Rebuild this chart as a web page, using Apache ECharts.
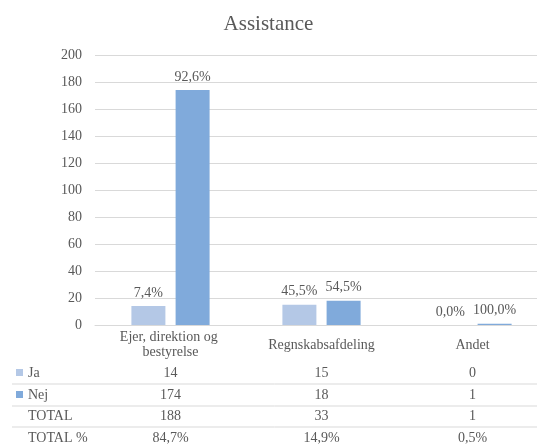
<!DOCTYPE html>
<html>
<head>
<meta charset="utf-8">
<script src="https://cdn.jsdelivr.net/npm/echarts@6/dist/echarts.min.js"></script>
<style>
  html, body { margin: 0; padding: 0; background: #fff; overflow: hidden; }
  #chart { width: 537px; height: 446px; }
</style>
</head>
<body>
<div id="chart"></div>
<script>
// Survey answers per group
const categories = ['Ejer, direktion og bestyrelse', 'Regnskabsafdeling', 'Andet'];
const jaValues = [14, 15, 0];
const nejValues = [174, 18, 1];
const yTicks = { min: 0, max: 200, interval: 20 };

const FONT = '"Liberation Serif", "Times New Roman", serif';
const TEXT = '#595959';
const GRID = '#D9D9D9';
const JA_COLOR = '#B4C8E6';
const NEJ_COLOR = '#80AADB';

const totals = categories.map((_, i) => jaValues[i] + nejValues[i]);
const grandTotal = totals.reduce((a, b) => a + b, 0);
const pct = (v, t) => (t ? (v / t * 100) : 0).toFixed(1).replace('.', ',') + '%';

const chart = echarts.init(document.getElementById('chart'), null, { renderer: 'canvas' });

function barLabel(values) {
  return {
    show: true,
    position: 'top',
    distance: 6,
    fontFamily: FONT,
    fontSize: 14,
    color: TEXT,
    formatter: p => pct(values[p.dataIndex], totals[p.dataIndex])
  };
}

chart.setOption({
  animation: false,
  title: {
    text: 'Assistance',
    left: 'center',
    top: 9,
    textStyle: { fontFamily: FONT, fontSize: 21, fontWeight: 'normal', color: TEXT }
  },
  // the plot runs a little past the right edge of the canvas
  grid: { left: 95, width: 453, top: 55, height: 270, containLabel: false, outerBoundsMode: 'none' },
  xAxis: {
    type: 'category',
    data: categories,
    axisLine: { lineStyle: { color: GRID } },
    axisTick: { show: false },
    axisLabel: {
      fontFamily: FONT, fontSize: 14, color: TEXT,
      margin: 20, verticalAlign: 'middle', lineHeight: 15,
      width: 135, overflow: 'break', interval: 0
    }
  },
  yAxis: {
    type: 'value',
    min: yTicks.min, max: yTicks.max, interval: yTicks.interval,
    axisLine: { show: false },
    axisTick: { show: false },
    splitLine: { lineStyle: { color: GRID } },
    axisLabel: { fontFamily: FONT, fontSize: 14, color: TEXT, margin: 13 }
  },
  series: [
    { name: 'Ja', type: 'bar', data: jaValues, barWidth: 34, barGap: '30%',
      itemStyle: { color: JA_COLOR }, label: barLabel(jaValues) },
    { name: 'Nej', type: 'bar', data: nejValues, barWidth: 34, barGap: '30%',
      itemStyle: { color: NEJ_COLOR }, label: barLabel(nejValues) }
  ]
});

// Data table under the plot, columns aligned to the category axis
const rows = [
  { name: 'Ja', key: JA_COLOR, cells: jaValues.map(String) },
  { name: 'Nej', key: NEJ_COLOR, cells: nejValues.map(String) },
  { name: 'TOTAL', key: null, cells: totals.map(String) },
  { name: 'TOTAL %', key: null, cells: totals.map(t => pct(t, grandTotal)) }
];
const rowY = [373, 395, 416, 438];
const lineY = [384, 406, 427];
const elements = [];
rows.forEach((r, ri) => {
  if (r.key) {
    elements.push({ type: 'rect', shape: { x: 16, y: rowY[ri] - 4, width: 7, height: 7 },
      style: { fill: r.key } });
  }
  elements.push({ type: 'text', x: 28, y: rowY[ri],
    style: { text: r.name, font: '14px ' + FONT, fill: TEXT, textVerticalAlign: 'middle', verticalAlign: 'middle' } });
  r.cells.forEach((c, ci) => {
    const x = chart.convertToPixel({ xAxisIndex: 0 }, ci);
    elements.push({ type: 'text', x: x, y: rowY[ri],
      style: { text: c, font: '14px ' + FONT, fill: TEXT, align: 'center', verticalAlign: 'middle',
        textAlign: 'center', textVerticalAlign: 'middle' } });
  });
});
lineY.forEach(y => {
  elements.push({ type: 'line', shape: { x1: 12, y1: y, x2: 537, y2: y },
    style: { stroke: GRID, lineWidth: 1 } });
});
chart.setOption({ graphic: { elements: elements } });
</script>
</body>
</html>
